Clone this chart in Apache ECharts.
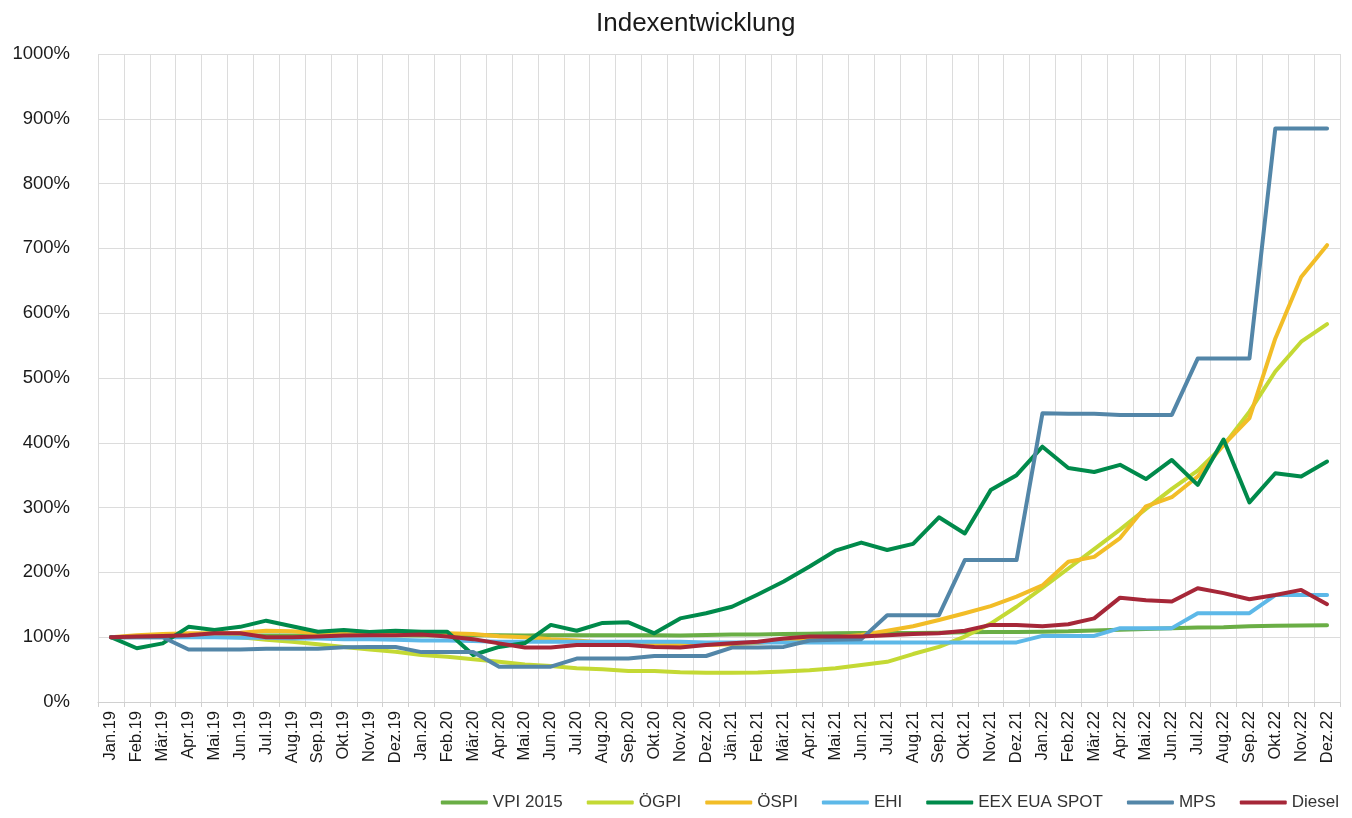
<!DOCTYPE html>
<html>
<head>
<meta charset="utf-8">
<script src="https://cdn.jsdelivr.net/npm/echarts@6/dist/echarts.min.js"></script>
<style>
html,body{margin:0;padding:0;background:#fff;}
#chart{width:1352px;height:818px;}
</style>
</head>
<body>
<div id="chart"></div>
<script>
const categories = ["Jan.19","Feb.19","Mär.19","Apr.19","Mai.19","Jun.19","Jul.19","Aug.19","Sep.19","Okt.19","Nov.19","Dez.19",
"Jan.20","Feb.20","Mär.20","Apr.20","Mai.20","Jun.20","Jul.20","Aug.20","Sep.20","Okt.20","Nov.20","Dez.20",
"Jän.21","Feb.21","Mär.21","Apr.21","Mai.21","Jun.21","Jul.21","Aug.21","Sep.21","Okt.21","Nov.21","Dez.21",
"Jan.22","Feb.22","Mär.22","Apr.22","Mai.22","Jun.22","Jul.22","Aug.22","Sep.22","Okt.22","Nov.22","Dez.22"];

const vpi = [100,100.5,101,102,102,102.5,102.5,102.5,102.5,103,103,103,
102.5,103,103.5,103,102.5,103,103,103,103,103,102.5,103.5,
104,104,105,105.5,106,106.5,106.5,106.5,107,107.5,108,108,
108.5,109,110.5,111.5,112.5,114,115,115.5,117,117.5,118,118.5];

const oegpi = [100,101,101,101,101,100,96,93,89,85,81,77.5,
72.5,70,66,62,58,55.5,52,50.5,48,48,46,45,
45,45.5,47,49,52,57,62,74,85,101,121,147,
176,206,236,266,298,329,357,396,448,510,556,583];

const oespi = [100,103,105,106,106,107,110,109,106,105,104,104,
106,106,105,101.5,100,97,95,92,90,89,88,88,
89,91,95,98,100,103.5,110,117,126.5,137,148,162.5,
180,216.5,224,253,302,316,348,397,438,561,656,705];

const ehi = [100,100,100,100,100,99,99,98,98,97,97,96,
95,95,94,93,93,93,93,93,93,93,93,92,
92,92,92,92,92,92,92,92,92,92,92,92,
102,102,102,114,114,114,137,137,137,165,165,165];

const eex = [100,83,90.5,116,111,116,125.5,117,108.5,111,108,110,
108.5,108.5,72.5,85,91,119,110,122,123,106,129,137,
147,166,186,209,233.5,246,234.5,244,285,260,327,350,
394,361,355,366,344,373.5,335,405,308,353,348,371];

const mps = [100,100,100,81,81,81,82,82,82,84.5,85,85,
77,77,77,54.5,54.5,54.5,67,67,67,71,71,71,
84,84,85,95,96,97,134,134,134,219,219,219,
445.5,445,445,443,443,443,530,530,530,885,885,885];

const diesel = [100,101,102,103,106,106,100,100,101,102.5,103,103,
104,101,97,90.5,84,84,88,88,88,85,84,88,
90.5,93,98,101,101,101,103,105,106,110,119,119,
117,120,129,161,157,155,175.5,168,158.5,165,173,151];

const yTicks = [0,100,200,300,400,500,600,700,800,900,1000];

const seriesDefs = [
  {name:"VPI 2015", data:vpi, color:"#6aae45"},
  {name:"ÖGPI", data:oegpi, color:"#c4d934"},
  {name:"ÖSPI", data:oespi, color:"#f2bd27"},
  {name:"EHI", data:ehi, color:"#5db8e8"},
  {name:"EEX EUA SPOT", data:eex, color:"#008a4b"},
  {name:"MPS", data:mps, color:"#5386a8"},
  {name:"Diesel", data:diesel, color:"#a62738"}
];

const chart = echarts.init(document.getElementById('chart'), null, {renderer:'canvas'});
const font = "'Liberation Sans', Arial, sans-serif";
chart.setOption({
  animation:false,
  backgroundColor:'#ffffff',
  title:{text:'Indexentwicklung', left:591, top:6,
    textStyle:{fontFamily:font, fontSize:26, fontWeight:'normal', color:'#1a1a1a'}},
  grid:{left:98, right:12, top:54, bottom:116, containLabel:false},
  legend:{
    data:seriesDefs.map(s=>s.name),
    right:8, bottom:2,
    icon:'roundRect', itemWidth:47, itemHeight:4, itemGap:24,
    textStyle:{fontFamily:font, fontSize:17, color:'#333'}
  },
  xAxis:{
    type:'category', data:categories, boundaryGap:true,
    axisLine:{show:true, lineStyle:{color:'#d0d0d0', width:1}},
    axisTick:{show:true, alignWithLabel:false, length:5, lineStyle:{color:'#d0d0d0'}},
    axisLabel:{rotate:90, interval:0, fontFamily:font, fontSize:16.5, color:'#1a1a1a', margin:9},
    splitLine:{show:true, interval:0, lineStyle:{color:'#dcdcdc', width:1}}
  },
  yAxis:{
    type:'value', min:yTicks[0], max:yTicks[yTicks.length-1], interval:100,
    axisLine:{show:false}, axisTick:{show:false},
    axisLabel:{formatter:function(v){return String(v)+'%';}, fontFamily:font, fontSize:18.5, color:'#1a1a1a', margin:28},
    splitLine:{show:true, lineStyle:{color:'#dcdcdc', width:1}}
  },
  series: seriesDefs.map(s=>({
    name:s.name, type:'line', data:s.data, showSymbol:false, symbol:'none',
    lineStyle:{width:4, color:s.color, cap:'round', join:'round'},
    itemStyle:{color:s.color},
    emphasis:{disabled:true}
  }))
});
</script>
</body>
</html>
